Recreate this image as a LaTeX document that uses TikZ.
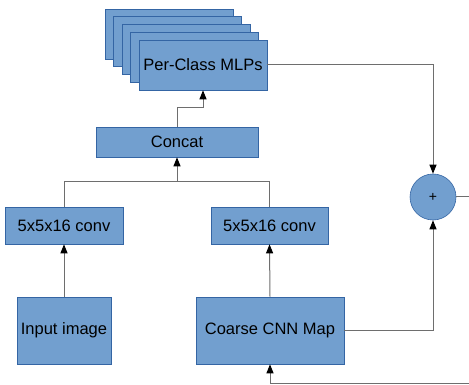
\documentclass[tikz,border=0pt]{standalone}
\usepackage{fontspec}
\setmainfont{Liberation Sans}
\usetikzlibrary{arrows.meta}
\definecolor{boxfill}{HTML}{729FCF}
\definecolor{boxline}{HTML}{3465A4}
\definecolor{wire}{HTML}{6E6E6E}
\begin{document}
\begin{tikzpicture}[x=1pt,y=-1pt,
  blk/.style={draw=boxline,fill=boxfill,line width=0.6pt,inner sep=0pt,
    font=\fontsize{16.5}{18}\selectfont},
  wirel/.style={draw=wire,line width=1pt},
  arr/.style={wirel,-{Triangle[length=9pt,width=7pt,color=black]}}]
\useasboundingbox (0,0) rectangle (469,385);
% stacked MLP boxes
\foreach \k in {4,3,2,1}{
  \node[blk,minimum width=128pt,minimum height=50pt] (mlp\k) at ({203-8.5*\k},{65-7.75*\k}) {};
}
\node[blk,minimum width=128pt,minimum height=50pt] (mlp) at (203,65) {Per-Class MLPs};
\node[blk,minimum width=162pt,minimum height=30pt] (concat) at (177,142) {Concat};
\node[blk,minimum width=118pt,minimum height=37pt] (convL) at (64,225.5) {5x5x16 conv};
\node[blk,minimum width=117pt,minimum height=37pt] (convR) at (269.5,225.5) {5x5x16 conv};
\node[blk,minimum width=94pt,minimum height=67pt] (input) at (64,330.5) {Input image};
\node[blk,minimum width=148pt,minimum height=67pt] (cnn) at (270,330.5) {Coarse CNN Map};
\node[blk,circle,minimum size=46pt,font=\fontsize{14}{16}\selectfont] (plus) at (433,197) {+};
\coordinate (j) at (177,182);
\coordinate (k) at (177,108);
\coordinate (outR) at (469,197);
\coordinate (inB) at (469,383);
% connectors
\draw[arr] (input.north) -- (convL.south);
\draw[arr] (cnn.north) -- (convR.south);
\draw[wirel] (convL.north) |- (j);
\draw[wirel] (convR.north) |- (j);
\draw[arr] (j) -- (concat.south);
\draw[arr] (concat.north) -- (k) -| (mlp.south);
\draw[arr] (mlp.east) -| (plus.north);
\draw[arr] (cnn.east) -| (plus.south);
\draw[wirel] (plus.east) -- (outR);
\draw[arr] (inB) -| (cnn.south);
\end{tikzpicture}
\end{document}
